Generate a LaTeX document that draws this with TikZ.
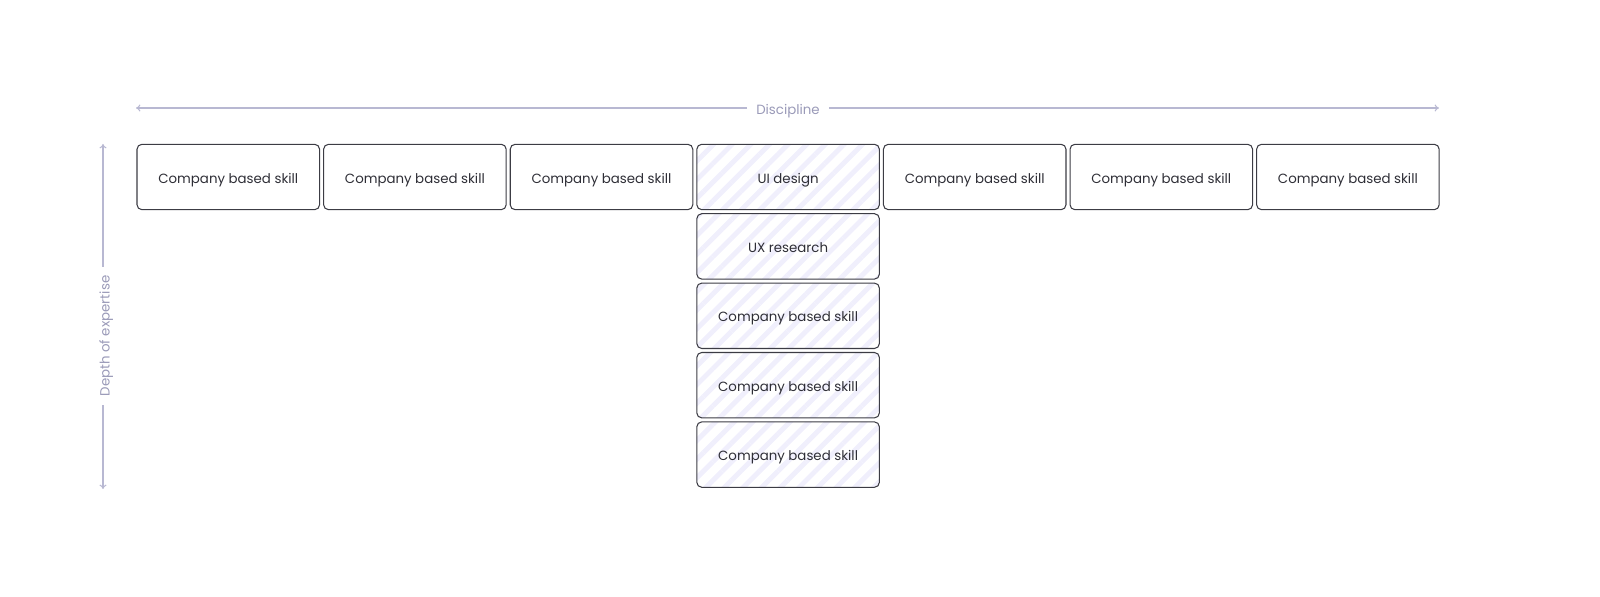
\documentclass[tikz,border=0pt]{standalone}
\usepackage{fontspec}
\setmainfont{Poppins}
\usepackage{tikz}
\usetikzlibrary{patterns.meta,arrows.meta}

\definecolor{boxline}{HTML}{3C3C44}
\definecolor{boxtext}{HTML}{2E2E36}
\definecolor{axisline}{HTML}{B8B8D2}
\definecolor{axistext}{HTML}{9A9AB8}
\definecolor{stripe}{HTML}{F0EFFC}

\begin{document}
\begin{tikzpicture}[x=0.02cm,y=-0.02cm]
\tikzset{skill/.style={draw=boxline,line width=0.6pt,rounded corners=2.8pt,
  minimum width=3.652cm,minimum height=1.308cm,inner sep=0pt,
  text height=7pt,text depth=0pt,
  font=\fontsize{7.6}{9}\selectfont,text=boxtext}}
\tikzset{core/.style={skill,pattern={Lines[angle=45,distance=7.5pt,line width=2.8pt]},pattern color=stripe}}
\tikzset{axislabel/.style={font=\fontsize{7.6}{9}\selectfont,text=axistext,
  text height=7pt,text depth=0pt,inner xsep=5pt,inner ysep=0pt}}
\tikzset{axisarrow/.style={draw=axisline,line width=0.6pt,-{To[length=2.5pt,width=4pt]}}}
\useasboundingbox (0,0) rectangle (1600,597);
% discipline axis
\coordinate (dleft) at (136,108);
\coordinate (dright) at (1439,108);
\node[axislabel] (discipline) at (788,108) {Discipline};
\draw[axisarrow] (discipline) -- (dleft);
\draw[axisarrow] (discipline) -- (dright);
% depth axis
\coordinate (dtop) at (103,144);
\coordinate (dbottom) at (103,489);
\node[axislabel,text height=5.4pt,rotate=90] (depth) at (105,336) {Depth of expertise};
\draw[axisarrow] (depth.east -| dtop) -- (dtop);
\draw[axisarrow] (depth.west -| dbottom) -- (dbottom);
% top row
\node[skill] (s1) at (228.3,177) {Company based skill};
\node[skill] (s2) at (414.9,177) {Company based skill};
\node[skill] (s3) at (601.5,177) {Company based skill};
\node[core] (ui) at (788.1,177) {UI design};
\node[skill] (s5) at (974.7,177) {Company based skill};
\node[skill] (s6) at (1161.3,177) {Company based skill};
\node[skill] (s7) at (1347.9,177) {Company based skill};
% stem
\node[core] (ux) at (788.1,246.4) {UX research};
\node[core] (c3) at (788.1,315.8) {Company based skill};
\node[core] (c4) at (788.1,385.2) {Company based skill};
\node[core] (c5) at (788.1,454.6) {Company based skill};
\end{tikzpicture}
\end{document}
